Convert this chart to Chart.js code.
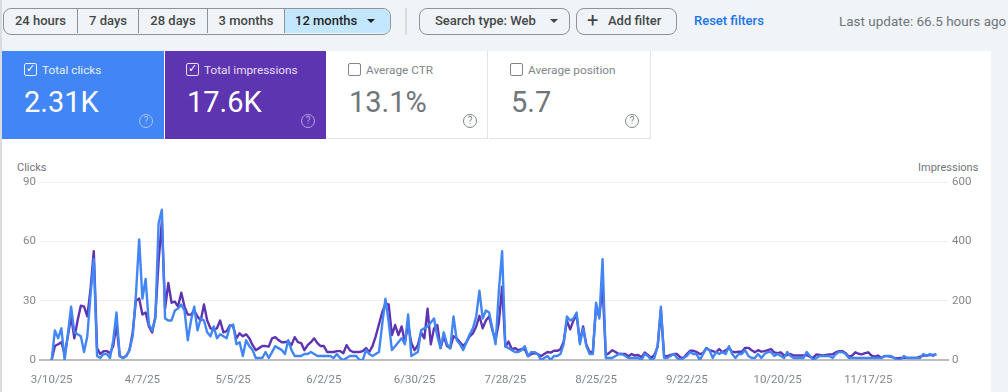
<!DOCTYPE html>
<html>
<head>
<meta charset="utf-8">
<script src="https://cdn.jsdelivr.net/npm/chart.js@4"></script>
<style>
html{background:#f0f4f9}
html,body{margin:0;padding:0;width:1008px;height:392px;overflow:hidden;font-family:Roboto,sans-serif}
body{background:#f0f4f9;filter:blur(0.45px)}
.a{position:absolute;white-space:nowrap}
#panel{left:2px;top:51px;width:989px;height:341px;background:#fff}
#edge{left:0;top:0;width:2px;height:392px;background:#d9dde3}
#group{left:3px;top:8px;width:388px;height:27px;box-sizing:border-box;border:1.5px solid #8f9397;border-radius:8px;overflow:hidden}
.seg{top:0;height:24px;line-height:24px;text-align:center;font-size:13px;color:#444746;box-sizing:border-box;border-right:1.5px solid #8f9397;font-weight:500}
.pill{top:8px;height:27px;box-sizing:border-box;border:1.5px solid #8f9397;border-radius:8px;line-height:24px;font-size:13px;color:#444746;font-weight:500}
.card{top:51px;height:88px;box-sizing:border-box}
.lab{top:63px;font-size:11.8px;line-height:15px}
.val{top:85px;font-size:29px;line-height:34px}
.cb{top:63px;width:13px;height:13px;box-sizing:border-box;border-radius:2px;border:1.5px solid}
.q{top:114px;width:14px;height:14px;box-sizing:border-box;border-radius:50%;border:1.3px solid;font-size:10px;line-height:11px;text-align:center}
.axt{top:161px;font-size:11px;line-height:13px;color:#70757a}
#wrap{left:0;top:150px;width:991px;height:242px}
</style>
</head>
<body>
<div class="a" id="edge"></div>
<div class="a" id="panel"></div>

<div class="a" id="group">
  <div class="a seg" style="left:0;width:74px">24 hours</div>
  <div class="a seg" style="left:74px;width:61px">7 days</div>
  <div class="a seg" style="left:135px;width:69px">28 days</div>
  <div class="a seg" style="left:204px;width:77px">3 months</div>
  <div class="a seg" style="left:281px;width:106px;background:#c2e7ff;border-right:0;color:#1f1f1f;text-align:left;padding-left:10px">12 months<span style="position:absolute;left:82px;top:10px;width:0;height:0;border-left:4px solid transparent;border-right:4px solid transparent;border-top:4px solid #1f1f1f"></span></div>
</div>
<div class="a" style="left:405px;top:8px;width:1.5px;height:27px;background:#dadce0"></div>
<div class="a pill" style="left:419px;width:151px;padding-left:15px">Search type: Web<span style="position:absolute;left:130px;top:10px;width:0;height:0;border-left:4px solid transparent;border-right:4px solid transparent;border-top:4px solid #444746"></span></div>
<div class="a pill" style="left:576px;width:101px;padding-left:31px">Add filter<span style="position:absolute;left:10px;top:-1px;font-size:20px;font-weight:400;line-height:24px">+</span></div>
<div class="a" style="left:694px;top:13px;font-size:13px;line-height:16px;font-weight:500;color:#1a73e8">Reset filters</div>
<div class="a" style="left:839px;top:13px;font-size:13.5px;line-height:16px;color:#70757a">Last update: 66.5 hours ago</div>

<div class="a card" style="left:2px;width:162px;background:#4285f4"></div>
<div class="a card" style="left:165px;width:161px;background:#5e35b1"></div>
<div class="a card" style="left:327px;width:161px;background:#fff;border-bottom:1px solid #e3e3e3;border-right:1px solid #e3e3e3"></div>
<div class="a card" style="left:489px;width:162px;background:#fff;border-bottom:1px solid #e3e3e3;border-right:1px solid #e3e3e3"></div>

<div class="a cb" style="left:24px;border-color:#e8effd;color:#fff;font-size:11px;line-height:10px;text-align:center">&#10003;</div>
<div class="a lab" style="left:42px;color:#e8effd">Total clicks</div>
<div class="a val" style="left:24px;color:#fff">2.31K</div>
<div class="a q" style="left:139px;border-color:#a9c6fa;color:#a9c6fa">?</div>

<div class="a cb" style="left:186px;border-color:#e6dff5;color:#fff;font-size:11px;line-height:10px;text-align:center">&#10003;</div>
<div class="a lab" style="left:204px;color:#e6dff5">Total impressions</div>
<div class="a val" style="left:187px;color:#fff">17.6K</div>
<div class="a q" style="left:301px;border-color:#b5a2dd;color:#b5a2dd">?</div>

<div class="a cb" style="left:348px;border-color:#80868b"></div>
<div class="a lab" style="left:366px;color:#80868b">Average CTR</div>
<div class="a val" style="left:349px;color:#70757a">13.1%</div>
<div class="a q" style="left:463px;border-color:#80868b;color:#80868b">?</div>

<div class="a cb" style="left:510px;border-color:#80868b"></div>
<div class="a lab" style="left:528px;color:#80868b">Average position</div>
<div class="a val" style="left:511px;color:#70757a">5.7</div>
<div class="a q" style="left:625px;border-color:#80868b;color:#80868b">?</div>

<div class="a axt" style="left:17px">Clicks</div>
<div class="a axt" style="left:918px">Impressions</div>

<div class="a" id="wrap"><canvas id="c" width="991" height="242"></canvas></div>

<script>
const clicks = [
0,15,11,16,0,13,27,14,13,12,
4,12,33,51,2,1,3,3,1,10,
24,2,1,2,5,12,33,61,31,41,
18,15,21,69,76,21,20,20,25,26,
28,25,10,20,27,15,21,20,14,12,
17,11,13,12,11,17,18,8,9,2,
10,7,5,1,1,1,4,1,4,7,
6,5,3,10,5,2,2,2,3,3,
4,3,2,2,2,2,2,1,3,1,
0,1,2,2,2,0,0,5,3,2,
3,4,18,31,19,5,7,9,11,8,
23,2,3,4,15,16,17,19,21,12,
6,14,8,6,22,10,8,5,9,13,
16,22,35,21,25,24,16,8,35,55,
7,6,5,4,4,5,7,2,4,4,
3,0,1,2,0,2,2,3,8,22,
20,21,24,8,16,7,3,3,29,21,
51,1,1,1,2,3,3,2,1,1,
1,1,0,3,2,0,1,7,27,1,
1,2,3,1,0,1,2,4,3,3,
0,3,6,5,1,4,3,4,3,7,
3,1,3,3,5,2,1,1,3,1,
3,4,4,2,3,2,1,4,2,1,
1,1,1,4,2,0,1,2,2,2,
2,1,3,4,4,3,1,1,1,1,
1,1,1,1,1,1,1,2,2,2,
1,0,0,2,1,1,1,1,1,3,
2,3,2,3];
const impressions = [
0,47,53,60,20,80,147,73,133,183,
180,147,240,367,40,20,30,30,23,47,
120,13,7,13,33,93,200,207,153,160,
113,93,147,333,467,173,260,193,197,180,
227,180,153,153,167,147,133,187,133,107,
100,107,133,93,97,117,113,73,90,80,
87,73,50,33,40,47,47,45,73,77,
67,60,60,63,50,77,60,57,33,50,
60,73,57,47,47,27,27,27,30,30,
23,50,33,27,27,27,30,40,27,47,
80,120,160,190,187,84,118,84,113,60,
120,57,33,50,93,73,173,53,107,118,
40,80,47,40,80,73,60,47,60,80,
90,113,149,107,133,147,100,67,127,247,
45,62,36,40,33,37,36,13,20,23,
20,13,20,27,25,31,31,36,62,133,
103,133,151,62,113,51,27,27,180,147,
247,17,23,33,27,20,20,20,13,20,
15,17,9,25,17,7,17,45,167,13,
13,17,20,20,9,7,20,31,31,27,
20,23,40,33,30,26,37,26,33,40,
28,26,28,28,41,41,33,26,33,28,
30,33,37,26,23,26,15,17,20,15,
15,15,15,17,11,7,19,17,15,17,
19,19,26,30,30,23,11,15,26,21,
19,23,26,15,11,15,7,13,13,11,
7,5,7,7,7,7,7,7,11,15,
15,17,17,19];
const tickDays = [0,28,56,84,112,140,168,196,224,252];
const tickLabels = ["3/10/25","4/7/25","5/5/25","6/2/25","6/30/25","7/28/25","8/25/25","9/22/25","10/20/25","11/17/25"];

const GREY = "#80868b";
const FONT = {family:"Roboto", size:11.5};
const toPoints = arr => arr.map((v,i)=>({x:i,y:v}));

new Chart(document.getElementById("c"), {
  type:"line",
  data:{datasets:[
    {label:"Clicks",data:toPoints(clicks),yAxisID:"y",borderColor:"#4285f4",borderWidth:2.4,borderJoinStyle:"round",pointRadius:0,tension:0,order:1},
    {label:"Impressions",data:toPoints(impressions),yAxisID:"y2",borderColor:"#5e35b1",borderWidth:2.4,borderJoinStyle:"round",pointRadius:0,tension:0,order:2}
  ]},
  options:{
    responsive:false,animation:false,
    layout:{padding:{top:32,left:0,right:0,bottom:0}},
    plugins:{legend:{display:false},tooltip:{enabled:false}},
    scales:{
      x:{
        type:"linear",min:-3.6,max:276.6,
        afterBuildTicks:s=>{s.ticks=tickDays.map(v=>({value:v}));},
        afterFit:s=>{s.height=32;},
        grid:{display:false},
        border:{display:true,color:"#bdbdbd",width:2},
        ticks:{autoSkip:false,maxRotation:0,minRotation:0,color:GREY,font:FONT,padding:5,
          callback:v=>tickLabels[tickDays.indexOf(v)]}
      },
      y:{
        position:"left",min:0,max:90,
        afterFit:s=>{s.width=40;},
        afterBuildTicks:s=>{s.ticks=[0,30,60,90].map(v=>({value:v}));},
        grid:{color:"#eeeeee",lineWidth:1,drawTicks:false},
        border:{display:false},
        ticks:{color:GREY,font:FONT,padding:4}
      },
      y2:{
        position:"right",min:0,max:600,
        afterFit:s=>{s.width=43;},
        afterBuildTicks:s=>{s.ticks=[0,200,400,600].map(v=>({value:v}));},
        grid:{display:false,drawTicks:false},
        border:{display:false},
        ticks:{color:GREY,font:FONT,padding:4}
      }
    }
  }
});
</script>
</body>
</html>
